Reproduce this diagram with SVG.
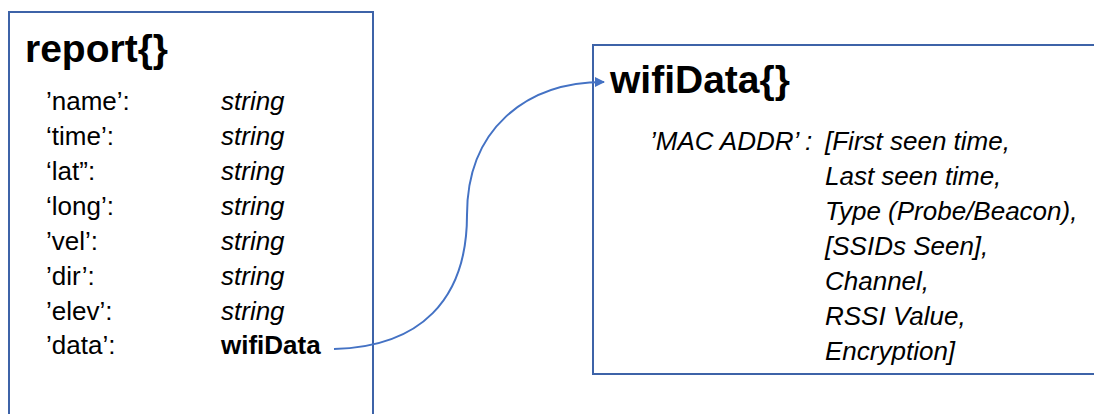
<svg xmlns="http://www.w3.org/2000/svg" width="1094" height="414" viewBox="0 0 1094 414">
<style>
.box{fill:#fff;stroke:#3d63a8;stroke-width:2}
text{font-family:"Liberation Sans",Arial,sans-serif;fill:#000}
.title{font-size:39px;font-weight:bold}
.f{font-size:26px}
.i{font-style:italic}
.b{font-weight:bold}
.conn{fill:none;stroke:#4472c4;stroke-width:2}
</style>
<defs>
<marker id="arr" markerWidth="10" markerHeight="10" refX="9" refY="5" orient="auto" markerUnits="userSpaceOnUse">
<path d="M0,0 L10,5 L0,10 Z" fill="#4472c4"/>
</marker>
</defs>
<rect width="1094" height="414" fill="#fff"/>
<g id="report">
<rect class="box" x="9" y="12" width="364" height="420"/>
<text class="title" x="25" y="62">report{}</text>
<text class="f" x="46" y="110">’name’:</text>
<text class="f i" x="221" y="110">string</text>
<text class="f" x="46" y="145">‘time’:</text>
<text class="f i" x="221" y="145">string</text>
<text class="f" x="46" y="180">‘lat”:</text>
<text class="f i" x="221" y="180">string</text>
<text class="f" x="46" y="215">‘long’:</text>
<text class="f i" x="221" y="215">string</text>
<text class="f" x="46" y="250">’vel’:</text>
<text class="f i" x="221" y="250">string</text>
<text class="f" x="46" y="285">’dir’:</text>
<text class="f i" x="221" y="285">string</text>
<text class="f" x="46" y="320">’elev’:</text>
<text class="f i" x="221" y="320">string</text>
<text class="f" x="46" y="354">’data’:</text>
<text class="f b" x="221" y="354">wifiData</text>
</g>
<g id="wifiData">
<rect class="box" x="593" y="45" width="520" height="329"/>
<text class="title" x="610" y="93">wifiData{}</text>
<text class="f i" x="650" y="150">’MAC ADDR’ :</text>
<text class="f i" x="825" y="150">[First seen time,</text>
<text class="f i" x="825" y="185">Last seen time,</text>
<text class="f i" x="825" y="220">Type (Probe/Beacon),</text>
<text class="f i" x="825" y="255">[SSIDs Seen],</text>
<text class="f i" x="825" y="290">Channel,</text>
<text class="f i" x="825" y="325">RSSI Value,</text>
<text class="f i" x="825" y="360">Encryption]</text>
</g>
<g id="connectors">
<path class="conn" d="M334,349 C420,347 467,300 467,215 C467,130 525,82 604,82" marker-end="url(#arr)"/>
</g>
</svg>
